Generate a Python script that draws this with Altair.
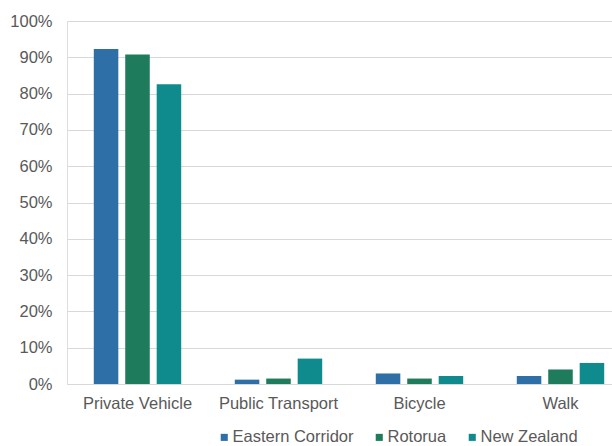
import altair as alt
import pandas as pd

modes = ["Private Vehicle", "Public Transport", "Bicycle", "Walk"]
series = ["Eastern Corridor", "Rotorua", "New Zealand"]
eastern_corridor = [0.923, 0.012, 0.029, 0.022]
rotorua = [0.908, 0.015, 0.015, 0.040]
new_zealand = [0.826, 0.070, 0.022, 0.058]
colors = ["#2e6fa8", "#1e7b5b", "#0f8b8e"]

rows = []
for name, vals in zip(series, [eastern_corridor, rotorua, new_zealand]):
    for m, v in zip(modes, vals):
        rows.append({"Mode": m, "Area": name, "Share": v})
df = pd.DataFrame(rows)

font = "Liberation Sans"
fs = 16.5
chart = alt.Chart(df).mark_bar().encode(
    x=alt.X("Mode:N", sort=modes, title=None,
            scale=alt.Scale(paddingInner=0.38, paddingOuter=0.19, range=[0, 564]),
            axis=alt.Axis(labelAngle=0, labelFont=font, labelFontSize=fs,
                          labelColor="#595959", labelPadding=11, ticks=False,
                          domain=False)),
    xOffset=alt.XOffset("Area:N", sort=series, scale=alt.Scale(paddingInner=0.22)),
    y=alt.Y("Share:Q", title=None,
            scale=alt.Scale(domain=[0, 1]),
            axis=alt.Axis(format=".0%", values=[i / 10 for i in range(11)],
                          labelFont=font, labelFontSize=fs, labelColor="#595959",
                          labelPadding=15, ticks=False, domain=False,
                          gridColor="#d9d9d9", gridWidth=1)),
    color=alt.Color("Area:N", sort=series,
                    scale=alt.Scale(domain=series, range=colors),
                    legend=alt.Legend(title=None, orient="none", direction="horizontal",
                                      legendX=149, legendY=408,
                                      symbolType="square", symbolSize=50,
                                      symbolStrokeWidth=0, labelFont=font,
                                      labelFontSize=fs, labelColor="#595959",
                                      labelOffset=0, columnPadding=17)),
).properties(
    width=545, height=363,
    autosize=alt.AutoSizeParams(type="none"),
    padding={"left": 67, "top": 21, "right": 0, "bottom": 62},
).configure_view(stroke=None).configure(background="white")

chart.save("out.html", embed_options={"renderer": "svg", "actions": False})
